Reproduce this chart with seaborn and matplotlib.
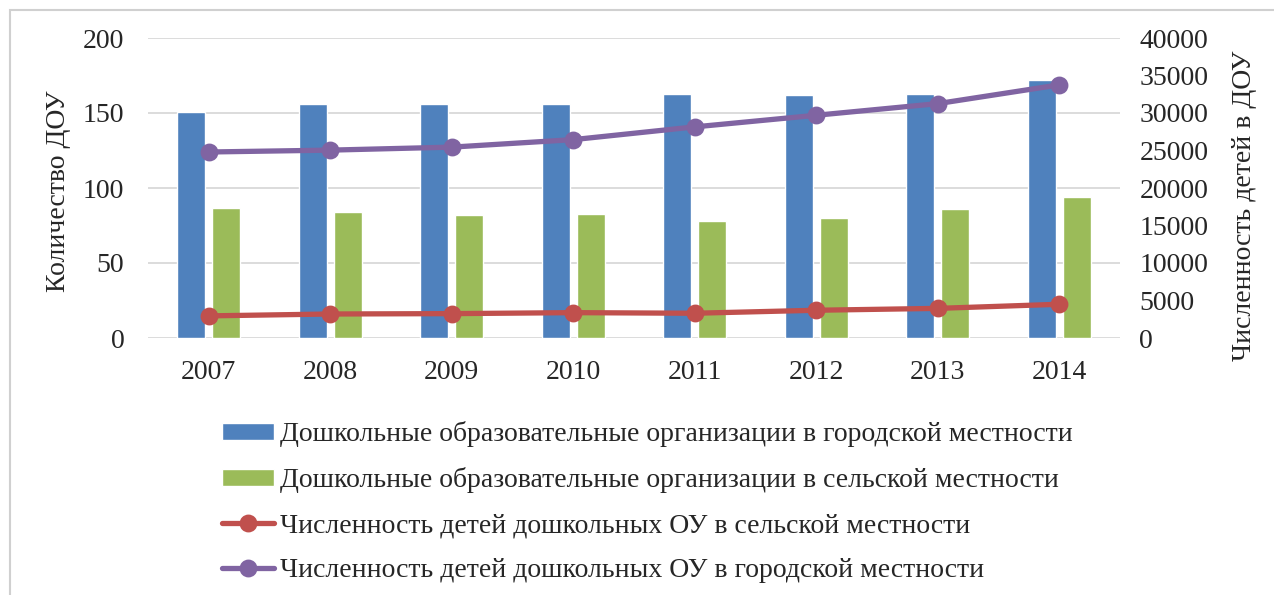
import pandas as pd
import seaborn as sns
import matplotlib.pyplot as plt
from matplotlib.patches import Rectangle

# values
years = ['2007', '2008', '2009', '2010', '2011', '2012', '2013', '2014']
urban_orgs = [151, 156, 156, 156, 163, 162, 163, 172]
rural_orgs = [87, 84, 82, 83, 78, 80, 86, 94]
rural_kids = [2950, 3200, 3250, 3380, 3300, 3700, 3950, 4500]
urban_kids = [24800, 25050, 25450, 26450, 28150, 29700, 31250, 33750]

lbl_urban_orgs = 'Дошкольные образовательные организации в городской местности'
lbl_rural_orgs = 'Дошкольные образовательные организации в сельской местности'
lbl_rural_kids = 'Численность детей дошкольных ОУ в сельской местности'
lbl_urban_kids = 'Численность детей дошкольных ОУ в городской местности'

bars = pd.DataFrame({
    'year': years * 2,
    'value': urban_orgs + rural_orgs,
    'series': [lbl_urban_orgs] * 8 + [lbl_rural_orgs] * 8,
})
lines = pd.DataFrame({
    'year': years * 2,
    'value': rural_kids + urban_kids,
    'series': [lbl_rural_kids] * 8 + [lbl_urban_kids] * 8,
})

sns.set_style("white")
plt.rcParams['font.family'] = ['Liberation Serif', 'DejaVu Serif']
plt.rcParams['font.size'] = 20

fig = plt.figure(figsize=(12.74, 5.95), dpi=100)
ax = fig.add_axes([148 / 1274, 1 - 338 / 595, 972 / 1274, 300 / 595])

sns.barplot(data=bars, x='year', y='value', hue='series',
            palette=['#4F81BD', '#9BBB59'], saturation=1,
            width=0.58, gap=0.2, order=years, ax=ax)

ax2 = ax.twinx()
sns.pointplot(data=lines, x='year', y='value', hue='series',
              palette=['#C0504D', '#8064A2'], markers='o', errorbar=None,
              order=years, linewidth=3.8, markersize=10, ax=ax2)

# left axis
ax.set_ylim(0, 200)
ax.set_yticks(range(0, 201, 50))
ax.yaxis.grid(True, color='#D9D9D9', linewidth=1.3)
ax.set_axisbelow(True)
ax.set_xlim(-0.5, 7.5)
ax.set_xlabel('')
ax.set_ylabel('Количество ДОУ', fontsize=20)
ax.yaxis.set_label_coords(-0.079, 0.49)
ax.tick_params(axis='both', length=0, labelsize=20)
ax.tick_params(axis='x', pad=16)
ax.tick_params(axis='y', pad=17)

# right axis
ax2.set_ylim(0, 40000)
ax2.set_yticks(range(0, 40001, 5000))
ax2.set_ylabel('Численность детей в ДОУ', fontsize=20)
ax2.yaxis.set_label_coords(1.115, 0.44)
ax2.tick_params(axis='y', length=0, labelsize=20, pad=14)
ax2.set_xlim(-0.5, 7.5)

for a in (ax, ax2):
    for s in a.spines.values():
        s.set_visible(False)

# legend below the plot, one entry per row
h1, l1 = ax.get_legend_handles_labels()
h2, l2 = ax2.get_legend_handles_labels()
ax.get_legend().remove()
ax2.get_legend().remove()
fig.legend(h1 + h2, l1 + l2, loc='upper left',
           bbox_to_anchor=(211 / 1274, 1 - 410 / 595),
           frameon=False, fontsize=20, handlelength=1.85, handleheight=0.55,
           handletextpad=0.25, labelspacing=0.72, borderaxespad=0)

# chart area frame
fig.patches.append(Rectangle((10 / 1274, -0.1), 1.2, 1 - 10 / 595 + 0.1,
                             transform=fig.transFigure, fill=False,
                             edgecolor='#D0D0D0', linewidth=1.5))

fig.savefig('out.png', dpi=100)
